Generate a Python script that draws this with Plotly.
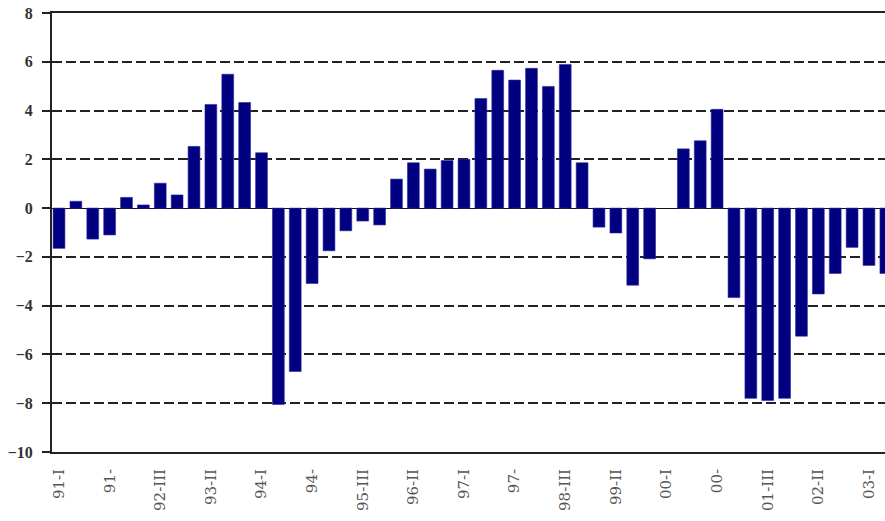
import plotly.graph_objects as go

years = ["91", "92", "93", "94", "95", "96", "97", "98", "99", "00", "01", "02", "03"]
quarters = ["I", "II", "III", "IV"]
categories = [f"{y}-{q}" for y in years for q in quarters][:50]

values = [
    -1.65, 0.28, -1.27, -1.10, 0.44, 0.13, 1.02, 0.54, 2.53, 4.25,
    5.49, 4.33, 2.27, -8.05, -6.70, -3.09, -1.75, -0.93, -0.53, -0.69,
    1.19, 1.86, 1.60, 1.95, 2.00, 4.49, 5.65, 5.25, 5.73, 4.99,
    5.89, 1.86, -0.78, -1.02, -3.16, -2.08, None, 2.43, 2.76, 4.05,
    -3.67, -7.80, -7.89, -7.80, -5.25, -3.52, -2.68, -1.61, -2.35, -2.68,
]

tick_cats = ["91-I", "91-IV", "92-III", "93-II", "94-I", "94-IV", "95-III", "96-II",
             "97-I", "97-IV", "98-III", "99-II", "00-I", "00-IV", "01-III", "02-II", "03-I"]
tick_text = ["91-I", "91-", "92-III", "93-II", "94-I", "94-", "95-III", "96-II",
             "97-I", "97-", "98-III", "99-II", "00-I", "00-", "01-III", "02-II", "03-I"]

y_ticks = [-10, -8, -6, -4, -2, 0, 2, 4, 6, 8]

fig = go.Figure()
fig.add_trace(go.Bar(
    x=categories, y=values,
    marker=dict(color="#000080", line=dict(width=0.6, color="#2a2aa0")),
))

fig.update_layout(
    width=885, height=521,
    margin=dict(l=52, r=0, t=13, b=69, autoexpand=False),
    paper_bgcolor="white", plot_bgcolor="white",
    bargap=0.3, showlegend=False,
    font=dict(family="Liberation Serif", color="#222"),
)
fig.update_xaxes(
    type="category", automargin=False,
    range=[-0.415, 48.95],
    tickmode="array", tickvals=tick_cats, ticktext=tick_text,
    tickangle=-90, tickfont=dict(size=15, color="#555", family="DejaVu Serif"),
    ticklabelstandoff=9, ticklabeloverflow="allow",
    showgrid=False, showline=True, linecolor="#222", linewidth=2, mirror=True,
    ticks="", zeroline=False,
)
fig.update_yaxes(
    range=[-10, 8], tickmode="array", tickvals=y_ticks, automargin=False,
    tickfont=dict(size=16, color="#333", family="Liberation Serif", weight="bold"),
    ticklabelstandoff=6, ticklabeloverflow="allow",
    showgrid=True, gridcolor="#222", gridwidth=1.5, griddash="10px,4px",
    showline=True, linecolor="#222", linewidth=2,
    ticks="outside", ticklen=8, tickcolor="#222", tickwidth=1.5,
    zeroline=True, zerolinecolor="#111", zerolinewidth=1.2,
)

fig.write_html("out.html", config={"displayModeBar": False},
               post_script="document.body.style.margin='0px';")
